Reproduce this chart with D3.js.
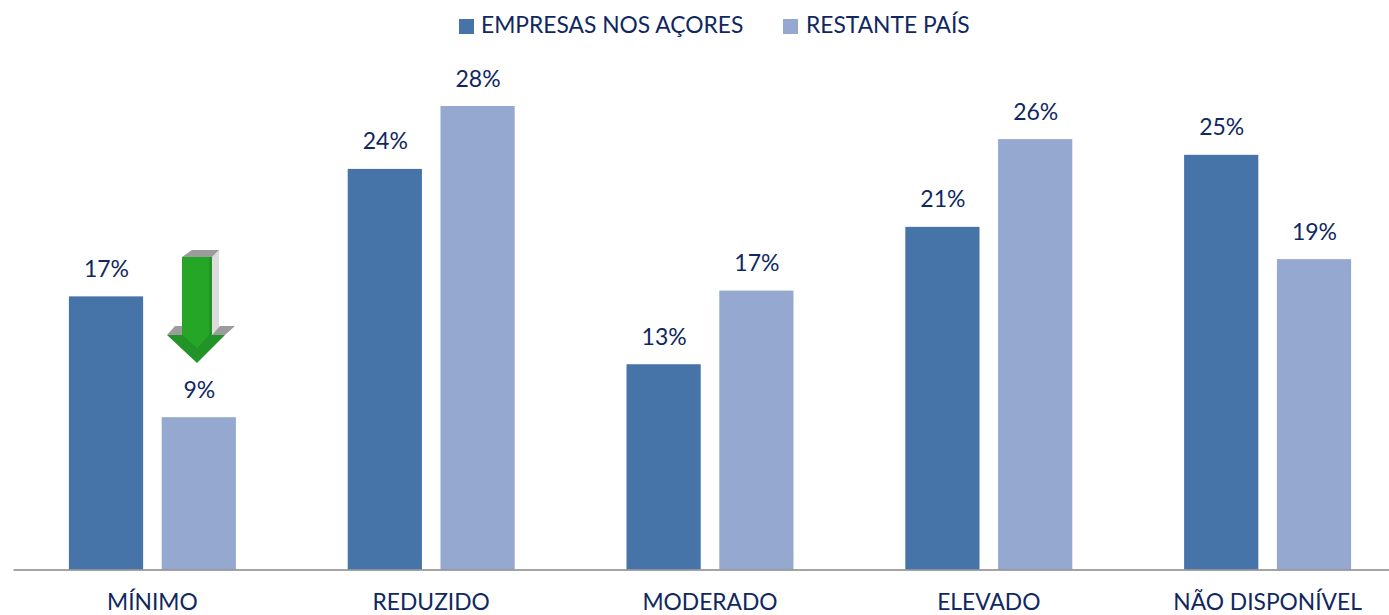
<!DOCTYPE html>
<html>
<head>
<meta charset="utf-8">
<script src="https://cdn.jsdelivr.net/npm/d3@7"></script>
<style>
    html, body { margin: 0; padding: 0; background: #fff; }
    svg { display: block; }
    text { font-family: Lato, "Open Sans", sans-serif; fill: #10285f; }
</style>
</head>
<body>
<svg id="chart" width="1389" height="615"></svg>
<script>
const categories = ["MÍNIMO", "REDUZIDO", "MODERADO", "ELEVADO", "NÃO DISPONÍVEL"];
const seriesNames = ["EMPRESAS NOS AÇORES", "RESTANTE PAÍS"];
// bar heights, the labels are the rounded ones it prints
const acoresValues = [16.5, 24.2, 12.4, 20.7, 25.05];
const paisValues = [9.2, 28.0, 16.85, 26.0, 18.75];
const acoresLabels = ["17%", "24%", "13%", "21%", "25%"];
const paisLabels = ["9%", "28%", "17%", "26%", "19%"];
const seriesColors = ["#4674a8", "#95a9d0"];

const svg = d3.select("#chart");
const baseY = 569.5;

const xScale = d3.scaleBand().domain(categories).range([13, 1407]);
const groupWidth = 167;
const innerScale = d3.scaleBand()
    .domain(seriesNames)
    .range([0, groupWidth])
    .paddingInner(0.2);
const yScale = d3.scaleLinear().domain([0, 28]).range([baseY, 106]);
const colorScale = d3.scaleOrdinal().domain(seriesNames).range(seriesColors);

const rows = [
    { name: seriesNames[0], values: acoresValues, labels: acoresLabels },
    { name: seriesNames[1], values: paisValues, labels: paisLabels }
];

rows.forEach(row => {
    const g = svg.append("g").attr("class", "series");
    const barX = (d, i) => xScale(categories[i]) + xScale.bandwidth() / 2 - groupWidth / 2 + innerScale(row.name);

    g.selectAll("rect")
        .data(row.values)
        .join("rect")
        .attr("x", barX)
        .attr("y", d => yScale(d))
        .attr("width", innerScale.bandwidth())
        .attr("height", d => baseY - yScale(d))
        .attr("fill", colorScale(row.name));

    g.selectAll("text")
        .data(row.values)
        .join("text")
        .attr("x", (d, i) => barX(d, i) + innerScale.bandwidth() / 2 + 0.5)
        .attr("y", d => yScale(d) - 19.5)
        .attr("text-anchor", "middle")
        .attr("font-size", 23)
        .text((d, i) => row.labels[i]);
});

// category axis
const axis = svg.append("g")
    .attr("transform", `translate(0, ${baseY})`)
    .call(d3.axisBottom(xScale).tickSize(0).tickPadding(24));
axis.select(".domain").attr("stroke", "#868686").attr("stroke-width", 1.6);
axis.selectAll("text").attr("font-size", 22.8).attr("font-family", null);

// legend
const legendItems = [
    { name: seriesNames[0], boxX: 459, textX: 481 },
    { name: seriesNames[1], boxX: 783, textX: 806 }
];
const legend = svg.append("g").attr("class", "legend");
legend.selectAll("rect")
    .data(legendItems)
    .join("rect")
    .attr("x", d => d.boxX)
    .attr("y", 19)
    .attr("width", 15)
    .attr("height", 15)
    .attr("fill", d => colorScale(d.name));
legend.selectAll("text")
    .data(legendItems)
    .join("text")
    .attr("x", d => d.textX)
    .attr("y", 33)
    .attr("font-size", 22.8)
    .text(d => d.name);

// 3d arrow over the first group, slightly soft like the pasted picture
const defs = svg.append("defs");
defs.append("filter").attr("id", "soft")
    .append("feGaussianBlur").attr("stdDeviation", 0.5);
const arrow = svg.append("g")
    .attr("transform", "translate(150, 240)")
    .attr("filter", "url(#soft)");
arrow.append("path").attr("d", "M62 17 L69 10 L69 88 L62 95 Z").attr("fill", "#dcdcdc");
arrow.append("path").attr("d", "M32 17 L42 10 L69 10 L62 17 Z").attr("fill", "#9c9c9c");
arrow.append("path").attr("d", "M17 95 L25 86 L33 86 L33 95 Z").attr("fill", "#9c9c9c");
arrow.append("path").attr("d", "M62 95 L70 86 L85 86 L75 95 Z").attr("fill", "#9c9c9c");
arrow.append("path").attr("d", "M32 17 L62 17 L62 95 L75 95 L47 123 L17 95 L32 95 Z").attr("fill", "#239325");
arrow.append("path").attr("d", "M32 17 L59 17 L59 95 L47 108 L32 95 Z").attr("fill", "#28a628");
</script>
</body>
</html>
